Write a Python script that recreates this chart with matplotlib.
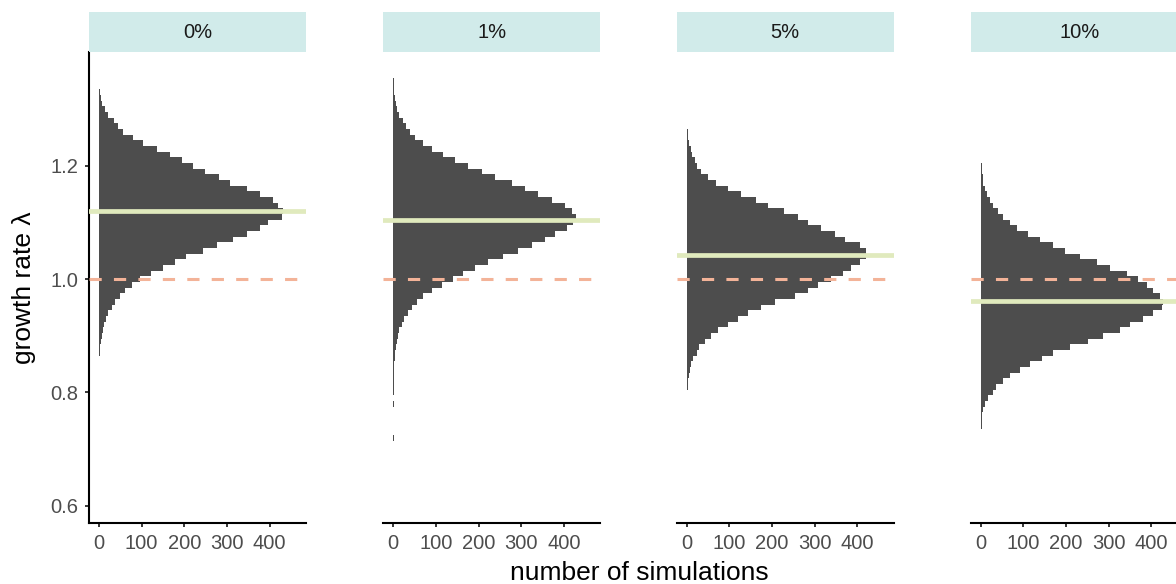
import matplotlib
matplotlib.use('Agg')
import matplotlib.pyplot as plt
import numpy as np

plt.rcParams['font.family'] = ['Liberation Sans', 'DejaVu Sans']

# facet labels (harvest level) and simulated growth-rate histograms
panels = ['0%', '1%', '5%', '10%']

# lowest bin centre of each panel; bins are 0.01 wide
lam_start = [0.84, 0.72, 0.76, 0.61]

counts_0 = [1, 1, 1, 2, 3, 5, 6, 9, 12, 16,
            22, 30, 37, 49, 61, 77, 96, 123, 151, 178,
            205, 244, 276, 315, 346, 377, 397, 428, 430, 420,
            408, 377, 346, 307, 280, 248, 221, 194, 166, 135,
            104, 80, 57, 45, 34, 22, 14, 8, 5, 2,
            1, 1]
counts_1 = [1, 0, 0, 0, 0, 0, 1, 0, 1, 1,
            1, 1, 1, 2, 3, 4, 6, 8, 10, 13,
            20, 25, 34, 43, 55, 70, 90, 113, 141, 164,
            191, 222, 258, 293, 324, 355, 379, 406, 422, 428,
            418, 402, 371, 340, 308, 277, 238, 207, 176, 145,
            117, 90, 70, 52, 39, 29, 23, 13, 9, 6,
            4, 2, 1, 1]
counts_5 = [1, 0, 1, 1, 1, 2, 3, 5, 7, 11,
            15, 23, 30, 42, 58, 73, 97, 120, 144, 175,
            206, 253, 284, 308, 339, 366, 386, 405, 420, 421,
            405, 370, 347, 315, 284, 261, 229, 190, 163, 128,
            97, 69, 50, 34, 25, 19, 13, 9, 5, 3,
            2, 1, 1]
counts_10 = [1, 0, 0, 1, 0, 1, 1, 0, 1, 1,
             1, 1, 1, 2, 2, 4, 6, 10, 18, 28,
             37, 53, 69, 92, 116, 143, 170, 209, 252, 287,
             326, 350, 381, 404, 424, 426, 420, 404, 389, 369,
             342, 303, 272, 233, 197, 170, 139, 112, 84, 69,
             53, 41, 30, 22, 14, 10, 6, 5, 3, 2,
             1, 1, 1, 1, 0, 1]
all_counts = [counts_0, counts_1, counts_5, counts_10]

mean_lambda = [1.120, 1.105, 1.042, 0.962]
x_ticks = [0, 100, 200, 300, 400]
y_ticks = [0.6, 0.8, 1.0, 1.2]

W, H = 1176, 584
lefts = [89, 383.3, 676.7, 970.7]
pw = 217
p_top, p_bot = 52, 523
s_top = 12

fig = plt.figure(figsize=(W / 100, H / 100), dpi=100)
fig.patch.set_facecolor('white')

for i, (name, start, counts) in enumerate(zip(panels, lam_start, all_counts)):
    lam = start + 0.01 * np.arange(len(counts))
    ax = fig.add_axes([lefts[i] / W, (H - p_bot) / H, pw / W, (p_bot - p_top) / H])
    ax.barh(lam, counts, height=0.01, left=0, color='#4d4d4d', linewidth=0)
    ax.axhline(1.0, color='#f3b398', lw=2.2, linestyle=(0, (4, 4)), zorder=3)
    ax.axhline(mean_lambda[i], color='#e0eabd', lw=3.4, zorder=4)

    ax.set_xlim(-23.4, 485)
    ax.set_ylim(0.5694, 1.4012)
    ax.set_xticks(x_ticks)
    ax.set_xticklabels([str(t) for t in x_ticks])
    ax.tick_params(axis='x', direction='out', length=3.2, width=1.1, pad=4.5,
                   labelsize=14.5, labelcolor='#4d4d4d', color='black')
    for side in ['top', 'right']:
        ax.spines[side].set_visible(False)
    ax.spines['bottom'].set_linewidth(1.5)
    if i == 0:
        ax.spines['left'].set_linewidth(1.5)
        ax.set_yticks(y_ticks)
        ax.set_yticklabels([f'{t:.1f}' for t in y_ticks])
        ax.tick_params(axis='y', direction='out', length=3.2, width=1.1, pad=4.5,
                       labelsize=14.5, labelcolor='#4d4d4d', color='black')
    else:
        ax.spines['left'].set_visible(False)
        ax.set_yticks([])

    # facet strip
    sax = fig.add_axes([lefts[i] / W, (H - p_top) / H, pw / W, (p_top - s_top) / H])
    sax.set_facecolor('#d1ebea')
    sax.set_xticks([])
    sax.set_yticks([])
    for sp in sax.spines.values():
        sp.set_visible(False)
    sax.text(0.5, 0.5, name, ha='center', va='center', fontsize=14.5,
             color='#1a1a1a', transform=sax.transAxes)

fig.text(24 / W, (H - 287.5) / H, 'growth rate λ', rotation=90,
         ha='center', va='center', fontsize=19)
fig.text(639 / W, (H - 580) / H, 'number of simulations',
         ha='center', va='baseline', fontsize=19)

fig.savefig('out.png', dpi=100)
plt.close(fig)
